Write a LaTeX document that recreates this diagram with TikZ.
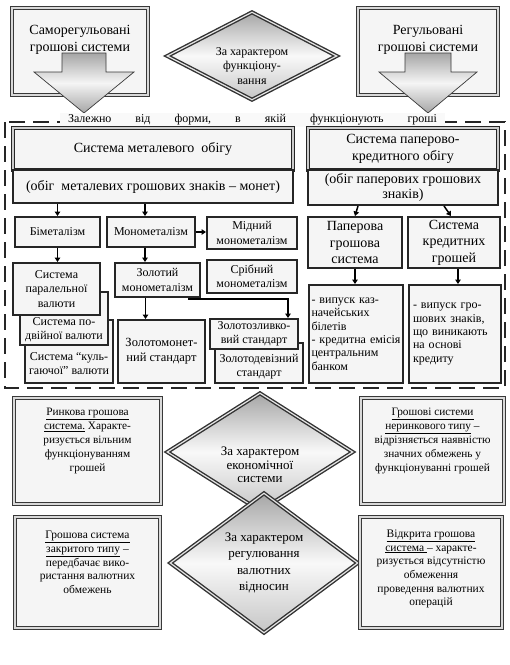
\documentclass[tikz,border=0pt]{standalone}
\usepackage{fontspec}
\setmainfont{Liberation Serif}
\usepackage{tikz}
\usetikzlibrary{calc,shapes,arrows.meta,positioning}

\begin{document}
\begin{tikzpicture}[x=1pt,y=-1pt,
	frm/.style={draw=gray!45!black,double=gray!30,double distance=1.6pt,line width=1.5pt,fill=gray!8,align=center},
	dfrm/.style={draw=black!85,double=gray!40,double distance=1.2pt,line width=1.2pt,fill=gray!8,align=center},
	bx/.style={draw=black!85,line width=2pt,fill=gray!8,align=center,inner sep=1pt},
	dia/.style={diamond,draw=gray!40!black,double=gray!20,double distance=1.2pt,line width=1.4pt,top color=gray!70,bottom color=gray!45,middle color=gray!5,inner sep=0pt,align=center},
	blk/.style={draw=gray!45!black,line width=.7pt,top color=gray!70,bottom color=gray!70,middle color=gray!8},
	arr/.style={line width=1.5pt,-{Triangle[length=4.5pt,width=5.5pt]}},
	big/.style={font=\fontsize{14}{16.5}\selectfont},
	mid/.style={font=\fontsize{12}{14.5}\selectfont},
	sml/.style={font=\fontsize{12}{13.4}\selectfont},
	low/.style={font=\fontsize{11.3}{14}\selectfont,align=center},
	]
	\useasboundingbox (0,0) rectangle (510,665);
	
	% frame "Залежно від форми..."
	\draw[black!85,line width=2.5pt,dash pattern=on 16pt off 8pt] (5,122) rectangle (505,388);
	
	% top row
	\node[frm,minimum width=136pt,minimum height=87pt] (selfreg) at (80,51.5) {};
	\node[big,align=center] (selfregtxt) at ([yshift=11.5pt]selfreg) {Саморегульовані\\грошові системи};
	\draw[blk] (62,53) -- (106,53) -- (106,72) -- (134,72) -- (84,113) -- (34,72) -- (62,72) -- cycle;
	
	\node[frm,minimum width=140pt,minimum height=87pt] (reg) at (428,51.5) {};
	\node[big,align=center] (regtxt) at ([yshift=11.5pt]reg) {Регульовані\\грошові системи};
	\draw[blk] (405,53) -- (451,53) -- (451,72) -- (477,72) -- (428,113) -- (379,72) -- (405,72) -- cycle;
	
	\node[dia,minimum width=170pt,minimum height=88pt] (func) at (252,56) {};
	\node[mid,align=center] (functxt) at ([yshift=-10pt]func) {За характером\\функціону-\\вання};
	
	\node[fill=gray!5,font=\fontsize{12}{14}\selectfont,text width=369pt,inner xsep=8pt,inner ysep=2pt] (depend) at (252.5,120) {\noindent Залежно\hfill від\hfill форми,\hfill в\hfill якій\hfill функціонують\hfill гроші};
	
	% metal circulation
	\node[dfrm,big,minimum width=280pt,minimum height=42pt] (metal) at (153,149) {Система металевого~ обігу};
	\node[bx,big,minimum width=280pt,minimum height=33pt] (metalsub) at (153,186.5) {(обіг~ металевих грошових знаків -- монет)};
	\node[bx,mid,minimum width=85pt,minimum height=30pt] (bimet) at (57.5,232) {Біметалізм};
	\node[bx,mid,minimum width=88pt,minimum height=30pt] (monomet) at (151,232) {Монометалізм};
	\node[bx,mid,minimum width=90pt,minimum height=32pt] (copper) at (252,233) {Мідний\\монометалізм};
	
	\node[bx,minimum width=88pt,minimum height=63pt] (limping) at (69,351.5) {};
	\node[mid,align=center] (limpingtxt) at ([yshift=-12pt]limping) {Система “куль-\\гаючої” валюти};
	\node[bx,minimum width=88pt,minimum height=53pt] (double) at (64,318.5) {};
	\node[mid,align=center] (doubletxt) at ([yshift=-11pt]double) {Система по-\\двійної валюти};
	\node[bx,mid,minimum width=87pt,minimum height=52pt] (parallel) at (56.5,289) {Система\\паралельної\\валюти};
	
	\node[bx,mid,minimum width=85pt,minimum height=34pt] (gold) at (157.5,280) {Золотий\\монометалізм};
	\node[bx,mid,minimum width=90pt,minimum height=33pt] (silver) at (252,276.5) {Срібний\\монометалізм};
	\node[bx,font=\fontsize{12.5}{15}\selectfont,minimum width=87pt,minimum height=63pt] (goldcoin) at (161.5,351.5) {Золотомонет-\\ний стандарт};
	\node[bx,minimum width=88pt,minimum height=40pt] (goldexch) at (259,363) {};
	\node[mid,align=center] (goldexchtxt) at ([yshift=-3.5pt]goldexch) {Золотодевізний\\стандарт};
	\node[bx,mid,minimum width=88pt,minimum height=30pt] (goldbull) at (254,334) {Золотозливко-\\вий стандарт};
	
	% paper-credit circulation
	\node[dfrm,big,minimum width=190pt,minimum height=42pt] (paper) at (403,149) {Система паперово-\\кредитного обігу};
	\node[bx,font=\fontsize{14}{15}\selectfont,minimum width=190pt,minimum height=35pt] (papersub) at (403,187.5) {(обіг паперових грошових\\знаків)};
	\node[bx,big,minimum width=94pt,minimum height=51pt] (paperm) at (355,242.5) {Паперова\\грошова\\система};
	\node[bx,big,minimum width=92pt,minimum height=51pt] (credit) at (454,242.5) {Система\\кредитних\\грошей};
	\node[bx,sml,minimum width=94pt,minimum height=98pt,text width=89pt,align=left] (paperdesc) at (356,334) {- випуск каз-\\начейських\\білетів\\- кредитна емісія\\центральним\\банком};
	\node[bx,sml,minimum width=92pt,minimum height=98pt,text width=84pt,align=left] (creditdesc) at (455,334) {- випуск гро-\\шових знаків,\\що виникають\\на основі\\кредиту};
	
	\draw[arr] (metalsub.south -| bimet.north) -- (bimet.north);
	\draw[arr] ([xshift=-6pt]monomet.north |- metalsub.south) -- ([xshift=-6pt]monomet.north);
	\draw[arr] (monomet.east) -- (monomet.east -| copper.west);
	\draw[arr] (bimet.south) -- (bimet.south |- parallel.north);
	\draw[arr] ([xshift=-6pt]monomet.south) -- ([xshift=-6pt]monomet.south |- gold.north);
	\draw[arr] ([xshift=-12pt]gold.south) -- ([xshift=-12pt]gold.south |- goldcoin.north);
	\draw[arr] ([xshift=-13pt,yshift=-1pt]gold.south east) -| ([xshift=-11pt]goldbull.north east);
	\draw[arr] ([xshift=3pt]paperm.north |- papersub.south) -- (paperm.north);
	\draw[arr] ([xshift=-10pt]credit.north |- papersub.south) -- ([xshift=-3pt]credit.north);
	\draw[arr] (paperm.south) -- (paperm.south |- paperdesc.north);
	\draw[arr] ([xshift=4pt]credit.south) -- ([xshift=4pt]credit.south |- creditdesc.north);
	
	% economic system
	\node[frm,minimum width=147pt,minimum height=106pt] (market) at (87.5,451) {};
	\node[low] (markettxt) at ([yshift=10pt]market) {\underline{Ринкова грошова}\\\underline{система.} Характе-\\ризується вільним\\функціонуванням\\грошей};
	\node[frm,minimum width=143pt,minimum height=106pt] (nonmarket) at (432.5,451) {};
	\node[low] (nonmarkettxt) at ([yshift=10pt]nonmarket) {\underline{Грошові системи}\\\underline{неринкового типу} --\\відрізняється наявністю\\значних обмежень у\\функціонуванні грошей};
	\node[dia,minimum width=186pt,minimum height=118pt] (econ) at (260,452) {};
	\node[align=center,font=\fontsize{13}{13.5}\selectfont] (econtxt) at ([yshift=-13pt]econ) {За характером\\економічної\\системи};
	
	% currency regulation
	\node[dia,font=\fontsize{13}{16.5}\selectfont,minimum width=188pt,minimum height=140pt] (regul) at (264,563) {За характером\\регулювання\\валютних\\відносин};
	\node[frm,minimum width=145pt,minimum height=111pt] (closed) at (87.5,572.5) {};
	\node[low,font=\fontsize{11.5}{13.7}\selectfont] (closedtxt) at ([yshift=10pt]closed) {\underline{Грошова система}\\\underline{закритого типу} --\\передбачає вико-\\ристання валютних\\обмежень};
	\node[frm,minimum width=142pt,minimum height=111pt] (open) at (431,572.5) {};
	\node[low,font=\fontsize{11.5}{13.7}\selectfont] (opentxt) at ([yshift=3.5pt]open) {\underline{Відкрита грошова}\\\underline{система }-- характе-\\ризується відсутністю\\обмеження\\проведення валютних\\операцій};
\end{tikzpicture}
\end{document}
